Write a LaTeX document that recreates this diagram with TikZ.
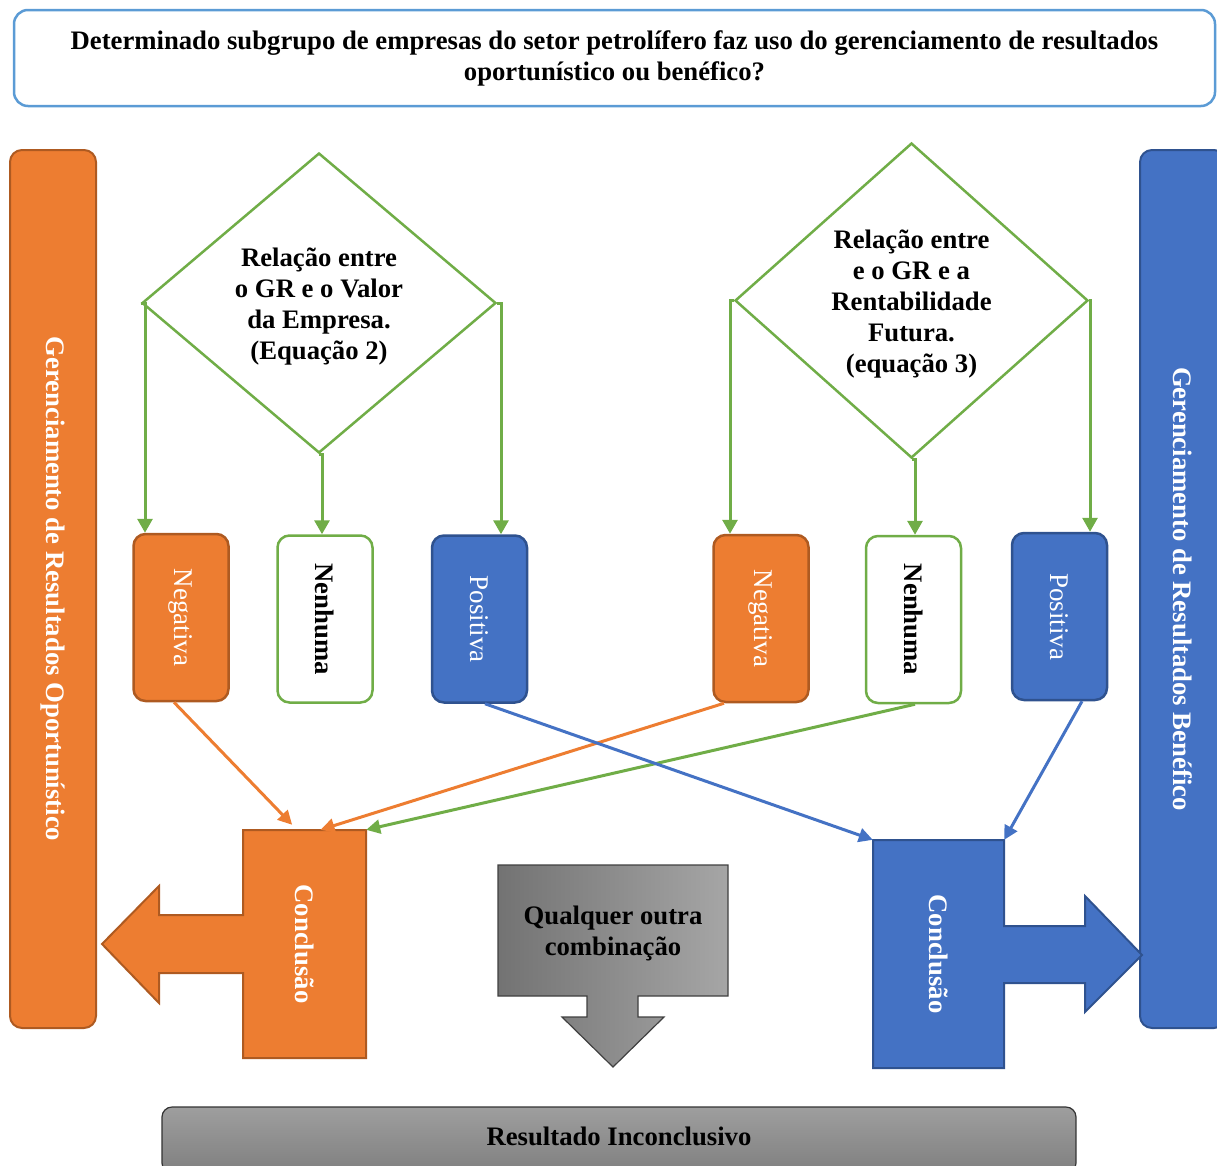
\documentclass[tikz,border=0pt]{standalone}
\usepackage{fontspec}
\setmainfont{Liberation Serif}
\usetikzlibrary{arrows.meta,shapes.geometric,calc}
\definecolor{org}{HTML}{ED7D31}
\definecolor{orgd}{HTML}{AE5A21}
\definecolor{blu}{HTML}{4472C4}
\definecolor{blud}{HTML}{2F528F}
\definecolor{grn}{HTML}{70AD47}
\definecolor{lblu}{HTML}{5B9BD5}
\tikzset{
  bigfont/.style={font=\fontsize{26.7}{31}\selectfont\bfseries},
  regfont/.style={font=\fontsize{27}{31}\selectfont},
  topbox/.style={draw=lblu, line width=2.5pt, rounded corners=14pt, minimum width=1201pt, minimum height=96pt, align=center, bigfont},
  sidebar/.style={rounded corners=12pt, line width=2pt, minimum width=86pt, minimum height=878pt, text=white, bigfont, inner sep=0pt},
  resbox/.style={rounded corners=12pt, minimum width=95pt, minimum height=167pt, inner sep=0pt, line width=2.5pt},
  negbox/.style={resbox, draw=orgd, fill=org, text=white, regfont},
  nenbox/.style={resbox, draw=grn, fill=white, text=black, bigfont},
  posbox/.style={resbox, draw=blud, fill=blu, text=white, regfont},
  diam/.style={diamond, draw=grn, line width=2.5pt, inner sep=0pt, fill=white},
  dtext/.style={align=center, bigfont},
  garrow/.style={draw=grn, line width=3pt, -{Triangle[length=14pt,width=15pt]}},
  oarrow/.style={draw=org, line width=3pt, -{Triangle[length=14pt,width=14pt]}},
  barrow/.style={draw=blu, line width=3pt, -{Triangle[length=14pt,width=14pt]}},
  glarrow/.style={draw=grn, line width=3pt, -{Triangle[length=14pt,width=14pt]}},
}
\begin{document}
\begin{tikzpicture}[x=1pt,y=-1pt]
\useasboundingbox (0,0) rectangle (1217,1165);

% top question
\node[topbox] (q) at (614.5,58) {\raisebox{-2pt}{Determinado subgrupo de empresas do setor petrolífero faz uso do gerenciamento de resultados}\\ \raisebox{-2pt}{oportunístico ou benéfico?}};

% side bars
\node[sidebar, draw=orgd, fill=org] (bl) at (53,589) {\rotatebox{-90}{Gerenciamento de Resultados Oportunístico}};
\node[sidebar, draw=blud, fill=blu] (br) at (1183,589) {\rotatebox{-90}{Gerenciamento de Resultados Benéfico}};

% diamonds
\node[diam, minimum width=354pt, minimum height=300pt] (d1) at (319,303) {};
\node[dtext] (t1) at (319,307) {Relação entre\\ o GR e o Valor\\ da Empresa.\\ (Equação 2)};
\node[diam, minimum width=353pt, minimum height=315pt] (d2) at (911.5,300.5) {};
\node[dtext] (t2) at (911.5,304) {Relação entre\\ e o GR e a\\ Rentabilidade\\ Futura.\\ (equação 3)};

% result boxes
\node[negbox] (n1) at (181,617.5) {\rotatebox{-90}{Negativa}};
\node[nenbox] (e1) at (325,619) {\rotatebox{-90}{Nenhuma}};
\node[posbox] (p1) at (479.5,619) {\rotatebox{-90}{Positiva}};
\node[negbox] (n2) at (761,618.5) {\rotatebox{-90}{Negativa}};
\node[nenbox] (e2) at (913.5,619.5) {\rotatebox{-90}{Nenhuma}};
\node[posbox] (p2) at (1059.5,616.5) {\rotatebox{-90}{Positiva}};

% diamond connectors
\draw[garrow] (d1.west) -| ([xshift=-36pt]n1.north);
\draw[garrow] (d1.south) -| ([xshift=-3pt]e1.north);
\draw[garrow] (d1.east) -| ([xshift=21.5pt]p1.north);
\draw[garrow] (d2.west) -| ([xshift=-31pt]n2.north);
\draw[garrow] (d2.south) -| ([xshift=1.5pt]e2.north);
\draw[garrow] (d2.east) -| ([xshift=30.5pt]p2.north);

% conclusion shapes
\draw[draw=orgd, fill=org, line width=2pt] (243,830) -- (366,830) -- (366,1058) -- (243,1058) -- (243,973) -- (159,973) -- (159,1003) -- (102,944) -- (159,886) -- (159,915) -- (243,915) -- cycle;
\node[minimum width=123pt, minimum height=228pt, inner sep=0pt, text=white, bigfont] (c1) at (304.5,944) {\rotatebox{-90}{Conclusão}};
\draw[draw=blud, fill=blu, line width=2pt] (873,840) -- (1004,840) -- (1004,926) -- (1085,926) -- (1085,896) -- (1142,955) -- (1085,1012) -- (1085,983) -- (1004,983) -- (1004,1068) -- (873,1068) -- cycle;
\node[minimum width=131pt, minimum height=228pt, inner sep=0pt, text=white, bigfont] (c2) at (938.5,954) {\rotatebox{-90}{Conclusão}};

% any other combination
\draw[draw=black!75, line width=1.2pt, left color=black!55, right color=black!35] (498,865) -- (728,865) -- (728,996) -- (638,996) -- (638,1017) -- (664,1017) -- (613,1067) -- (562,1017) -- (587,1017) -- (587,996) -- (498,996) -- cycle;
\node[minimum width=230pt, minimum height=131pt, inner sep=0pt, align=center, bigfont] (g) at (613,933.5) {Qualquer outra\\ combinação};

% inconclusive result
\node[draw=black!80, line width=1.2pt, rounded corners=10pt, top color=black!38, bottom color=black!50, minimum width=914pt, minimum height=66pt, bigfont] (r) at (619,1140) {\raisebox{7pt}{Resultado Inconclusivo}};

% lower connectors
\draw[oarrow, shorten >=7pt] ([xshift=-7pt]n1.south) -- ([xshift=-7.5pt]c1.north);
\draw[oarrow] ([xshift=-37pt]n2.south) -- ([xshift=16pt]c1.north);
\draw[glarrow] ([xshift=1.5pt]e2.south) -- (c1.north east);
\draw[barrow] ([xshift=5.5pt]p1.south) -- (c2.north west);
\draw[barrow] ([xshift=22.5pt]p2.south) -- (c2.north east);
\end{tikzpicture}
\end{document}
